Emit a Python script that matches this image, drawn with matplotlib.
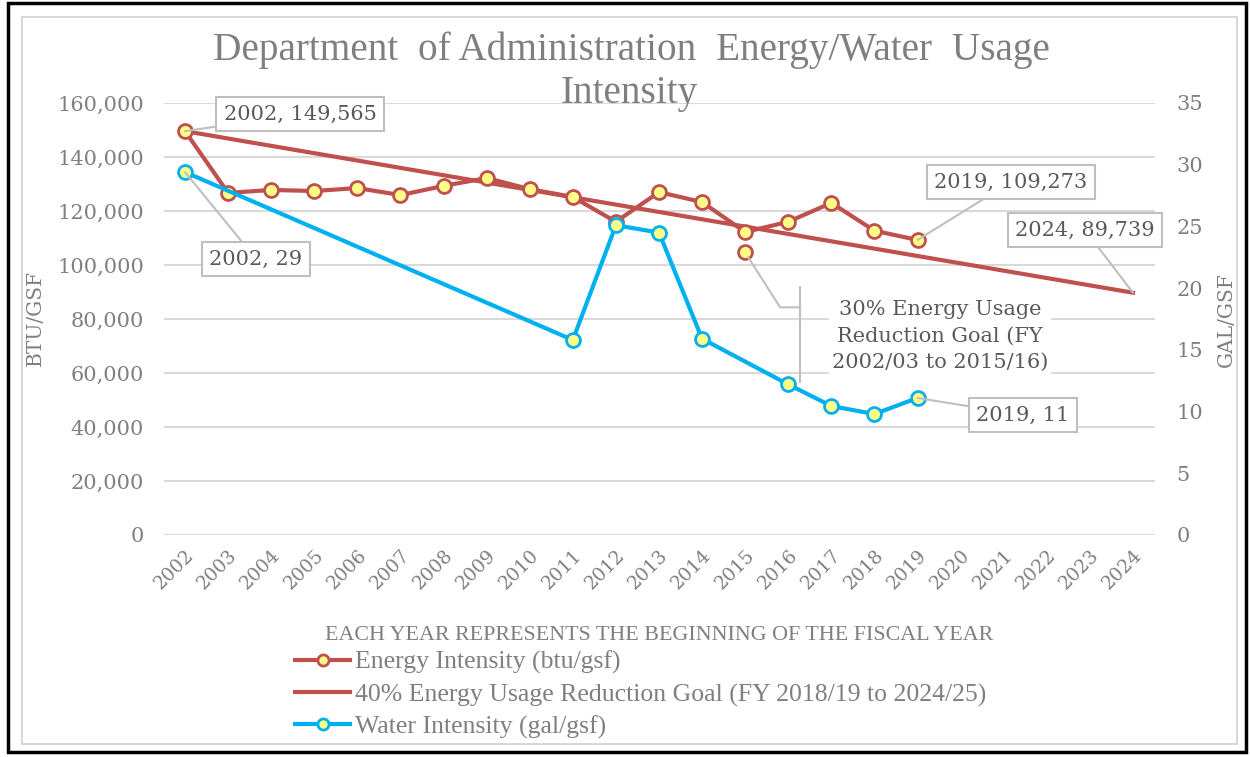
import numpy as np
import matplotlib
matplotlib.use("Agg")
import matplotlib.pyplot as plt
from matplotlib.patches import Rectangle
from matplotlib.lines import Line2D

# ---------------- data ----------------
years = list(range(2002, 2025))
energy_years = list(range(2002, 2020))
energy_vals = [149565, 126700, 127800, 127400, 128500, 125900, 129300, 132200,
               128100, 125200, 116000, 127000, 123300, 112200, 116000, 123000,
               112700, 109273]
goal40_years = [2002, 2024]
goal40_vals = [149565, 89739]
goal30_years = [2015]
goal30_vals = [104696]
water_years = [2002, 2011, 2012, 2013, 2014, 2016, 2017, 2018, 2019]
water_vals = [29.4, 15.8, 25.1, 24.5, 15.9, 12.2, 10.45, 9.8, 11.1]
left_ticks = [0, 20000, 40000, 60000, 80000, 100000, 120000, 140000, 160000]
right_ticks = [0, 5, 10, 15, 20, 25, 30, 35]

title = "Department  of Administration  Energy/Water  Usage\nIntensity"
xlabel = "EACH YEAR REPRESENTS THE BEGINNING OF THE FISCAL YEAR"
lab_energy = "Energy Intensity (btu/gsf)"
lab_goal40 = "40% Energy Usage Reduction Goal (FY 2018/19 to 2024/25)"
lab_water = "Water Intensity (gal/gsf)"
lab_goal30 = "30% Energy Usage\nReduction Goal (FY\n2002/03 to 2015/16)"

# ---------------- style ----------------
RED = "#C0504D"
BLUE = "#00B0F0"
YEL = "#FFFF88"
GRAY_T = "#7F7F7F"
GRAY_A = "#595959"
LEAD = "#BFBFBF"
GRID = "#D9D9D9"
SERIF = ["DejaVu Serif"]
COND = ["Liberation Serif"]

W, H = 1250, 757
fig = plt.figure(figsize=(W / 100, H / 100), dpi=100)
fig.patch.set_facecolor("white")

# frames
fig.add_artist(Rectangle((8 / W, 1 - 752 / H), (1246 - 8) / W, (752 - 3) / H,
                         transform=fig.transFigure, fill=False, ec="black", lw=2.5))
fig.add_artist(Rectangle((22 / W, 1 - 744 / H), (1237 - 22) / W, (744 - 17) / H,
                         transform=fig.transFigure, fill=False, ec="#D0D0D0", lw=1.2))

ax = fig.add_axes([163.5 / W, 1 - 535 / H, 991 / W, 432 / H])
ax2 = ax.twinx()

ax.set_xlim(2001.5, 2024.5)
ax.set_ylim(0, 160000)
ax2.set_ylim(0, 35)
ax.set_yticks(left_ticks)
ax.set_yticklabels([f"{v:,}" for v in left_ticks])
ax2.set_yticks(right_ticks)
ax2.set_yticklabels([str(v) for v in right_ticks])
ax.set_xticks(years)
ax.set_xticklabels([str(y) for y in years], rotation=45, ha="right",
                   rotation_mode="anchor")

for a in (ax, ax2):
    for s in a.spines.values():
        s.set_visible(False)
    a.tick_params(length=0, colors=GRAY_T)
    a.patch.set_alpha(0)
for lbl in ax.get_yticklabels() + ax2.get_yticklabels():
    lbl.set_fontfamily(SERIF)
    lbl.set_fontsize(15)
for lbl in ax.get_xticklabels():
    lbl.set_fontfamily(SERIF)
    lbl.set_fontsize(13.5)
ax.tick_params(axis="y", pad=14)
ax2.tick_params(axis="y", pad=16)
ax.tick_params(axis="x", pad=8)

ax.grid(axis="y", color=GRID, lw=1.5)
ax.set_axisbelow(True)

fig.text(35 / W, 1 - 318 / H, "BTU/GSF", rotation=90, family=SERIF, fontsize=14.5,
         color=GRAY_T, ha="center", va="center")
fig.text(1226 / W, 1 - 320 / H, "GAL/GSF", rotation=90, family=SERIF, fontsize=14.5,
         color=GRAY_T, ha="center", va="center")

# series
l_en, = ax.plot(energy_years, energy_vals, color=RED, lw=3, marker="o", ms=10,
                mfc=YEL, mec=RED, mew=2, zorder=5, label=lab_energy)
l_g40, = ax.plot(goal40_years, goal40_vals, color=RED, lw=3, zorder=4, label=lab_goal40)
ax.plot(goal30_years, goal30_vals, ls="none", marker="o", ms=10, mfc=YEL, mec=RED,
        mew=2, zorder=5)
l_w, = ax2.plot(water_years, water_vals, color=BLUE, lw=3, marker="o", ms=10,
                mfc=YEL, mec=BLUE, mew=2, zorder=5, label=lab_water)

# annotations (text positions in figure pixels from top-left)
box = dict(boxstyle="square,pad=0.35", fc="white", ec=LEAD, lw=1.5)
arr = dict(arrowstyle="-", color=LEAD, lw=1.5, shrinkA=0, shrinkB=0)
akw = dict(family=SERIF, fontsize=15, color=GRAY_A, bbox=box, arrowprops=arr,
           ha="center", va="center", zorder=10, textcoords="figure pixels")
ax.annotate(f"{energy_years[0]}, {energy_vals[0]:,}", xy=(energy_years[0], energy_vals[0]),
            xytext=(300, H - 114), **akw)
ax2.annotate(f"{water_years[0]}, {round(water_vals[0])}", xy=(water_years[0], water_vals[0]),
             xytext=(256, H - 259), **akw)
ax.annotate(f"{energy_years[-1]}, {energy_vals[-1]:,}", xy=(energy_years[-1], energy_vals[-1]),
            xytext=(1011, H - 182), **akw)
ax.annotate(f"{goal40_years[-1]}, {goal40_vals[-1]:,}", xy=(goal40_years[-1], goal40_vals[-1]),
            xytext=(1085, H - 230), **akw)
ax2.annotate(f"{water_years[-1]}, {round(water_vals[-1])}", xy=(water_years[-1], water_vals[-1]),
             xytext=(1023, H - 415), **akw)

ax.text(940 / W, 1 - 336 / H, lab_goal30, transform=fig.transFigure, family=SERIF,
        fontsize=15, color=GRAY_A, ha="center", va="center", linespacing=1.5,
        bbox=dict(boxstyle="square,pad=0.15", fc="white", ec="none"), zorder=10)
# leader for the 30% goal label: diagonal from the point, then horizontal to a bracket
fig.canvas.draw()
px, py = ax.transData.transform((goal30_years[0], goal30_vals[0]))
cx, cy = px + 35, py - 55
bx = cx + 20
fig.add_artist(Line2D([px + 3, cx, bx], [py - 5, cy, cy], transform=None,
                      color=LEAD, lw=1.5, zorder=9))
fig.add_artist(Line2D([bx, bx], [cy + 20, cy - 75], transform=None,
                      color=LEAD, lw=1.5, zorder=9))

fig.text(0.5 + 0.005, 1 - 50 / H, title.split("\n")[0], ha="center", va="center",
         family=COND, fontsize=28.3, color=GRAY_T)
fig.text(629 / W, 1 - 94 / H, title.split("\n")[1], ha="center", va="center",
         family=COND, fontsize=28.3, color=GRAY_T)
fig.text(659 / W, 1 - 636 / H, xlabel, ha="center", va="center", family=COND,
         fontsize=15.8, color=GRAY_T)

leg = fig.legend(handles=[l_en, l_g40, l_w], loc="upper left",
                 bbox_to_anchor=(295 / W, 1 - 651 / H), frameon=False,
                 prop=dict(family=COND, size=18.5), labelcolor=GRAY_T,
                 handlelength=2.15, handletextpad=0.2, labelspacing=0.34,
                 borderpad=0, borderaxespad=0, markerscale=0.8)

fig.savefig("out.png", dpi=100, facecolor="white")
